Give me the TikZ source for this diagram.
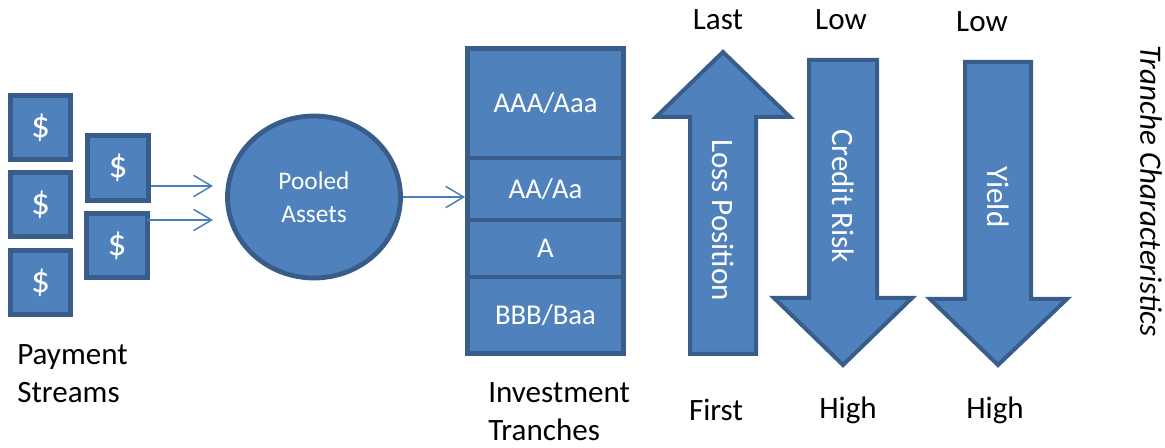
\documentclass[tikz,border=0pt]{standalone}
\usepackage{fontspec}
\setmainfont{Carlito}
\usetikzlibrary{arrows.meta,shapes.geometric}
\definecolor{fillblue}{HTML}{4F81BD}
\definecolor{edgeblue}{HTML}{385D8A}
\definecolor{linkblue}{HTML}{4A7EBB}
\begin{document}
\begin{tikzpicture}[x=0.75pt,y=-0.75pt,
  shapebox/.style={fill=fillblue,draw=edgeblue,line width=3.6pt,inner sep=0pt,text=white},
  dollarbox/.style={shapebox,font=\fontsize{28}{32}\selectfont},
  tranchebox/.style={shapebox,minimum width=117pt,font=\fontsize{21.5}{26}\selectfont},
  bigarrow/.style={fill=fillblue,draw=edgeblue,line width=3pt,miter limit=4},
  link/.style={draw=linkblue,line width=1.1pt,-{Straight Barb[length=13.5pt,width=16pt,line width=1.1pt]}},
  intext/.style={text=white,inner sep=0pt,rotate=-90,font=\fontsize{23.3}{28}\selectfont},
  outlabel/.style={text=black,inner sep=0pt,font=\fontsize{23.3}{28.5}\selectfont},
]
\useasboundingbox (0,0) rectangle (1165,448);

% payment stream boxes
\node[dollarbox,minimum width=45pt,minimum height=48pt] (d1) at (40.5,127.5) {\$};
\node[dollarbox,minimum width=45pt,minimum height=48pt] (d2) at (40.5,204.5) {\$};
\node[dollarbox,minimum width=45pt,minimum height=48pt] (d3) at (40.5,282.5) {\$};
\node[dollarbox,minimum width=45.75pt,minimum height=48.75pt] (d4) at (118,168) {\$};
\node[dollarbox,minimum width=45.75pt,minimum height=48pt] (d5) at (117,245.5) {\$};

% pooled assets
\node[shapebox,ellipse,minimum width=129.75pt,minimum height=121.5pt,
      align=center,font=\fontsize{19}{25}\selectfont] (pool) at (314,197) {Pooled\\Assets};

% tranche stack
\node[tranchebox,minimum height=82.1pt] (t1) at (545.5,103.25) {AAA/Aaa};
\node[tranchebox,minimum height=46.5pt] (t2) at (545.5,189) {AA/Aa};
\node[tranchebox,minimum height=42.75pt] (t3) at (545.5,248.5) {A};
\node[tranchebox,minimum height=57.4pt] (t4) at (545.5,315.25) {BBB/Baa};

% connectors
\coordinate (a1e) at (213,186);
\coordinate (a2e) at (213,220);
\draw[link] (d4.east |- a1e) -- (a1e);
\draw[link] ([xshift=-2.5pt]d5.east |- a2e) -- (a2e);
\draw[link] (pool.east) -- (pool.east -| t1.west);

% big arrows
\draw[bigarrow] (723,52) -- (790,117) -- (756,117) -- (756,354) -- (690,354) -- (690,117) -- (656,117) -- cycle;
\draw[bigarrow] (809,60) -- (877,60) -- (877,298) -- (912,298) -- (843,365) -- (774,298) -- (809,298) -- cycle;
\draw[bigarrow] (965,62) -- (1031,62) -- (1031,299) -- (1067,299) -- (998,365) -- (930,299) -- (965,299) -- cycle;

\node[intext] (loss) at (723,220) {Loss Position};
\node[intext] (credit) at (843,196) {Credit Risk};
\node[intext] (yield) at (998,197) {Yield};

% labels
\node[outlabel] (last) at (718,20) {Last};
\node[outlabel] (low1) at (841,20) {Low};
\node[outlabel] (low2) at (982,22) {Low};
\node[outlabel] (first) at (716,410) {First};
\node[outlabel] (high1) at (848,410) {High};
\node[outlabel] (high2) at (995,410) {High};
\node[outlabel,align=left,anchor=base west] (pay) at (17,403) {Payment\\Streams};
\node[outlabel,align=left,anchor=base west] (inv) at (488,441) {Investment\\Tranches};
\node[outlabel,rotate=-90,font=\fontsize{23.3}{28}\selectfont\itshape] (tc) at (1151,191) {Tranche Characteristics};
\end{tikzpicture}
\end{document}
